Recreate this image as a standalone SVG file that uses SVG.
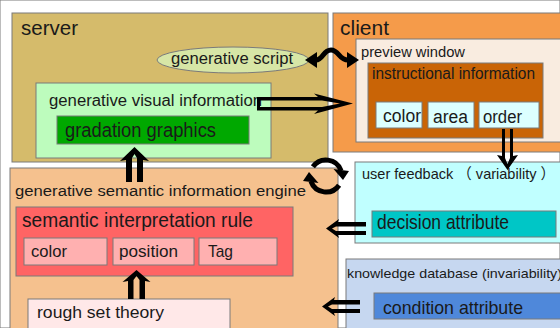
<svg xmlns="http://www.w3.org/2000/svg" width="560" height="328" viewBox="0 0 560 328">
<style>
rect, ellipse { stroke: #7a7a7a; stroke-width: 1; }
text { font-family: "Liberation Sans", "Noto Sans CJK JP", sans-serif; fill: #1a1a1a; }
.arr { fill: #000; fill-rule: evenodd; stroke: none; }
.ln { fill: none; stroke: #000; stroke-width: 5; }
.hd { fill: #000; stroke: none; }
</style>
<rect x="0" y="0" width="560" height="328" fill="#ffffff" stroke="none"/>
<g id="server">
  <rect x="12" y="13" width="316" height="149" fill="#d5bb6b"/>
  <text x="21" y="35" font-size="21" textLength="57" lengthAdjust="spacingAndGlyphs">server</text>
</g>
<g id="client">
  <rect x="333" y="13" width="232" height="139" fill="#f59b4a"/>
  <text x="340" y="35" font-size="20" textLength="49" lengthAdjust="spacingAndGlyphs">client</text>
</g>
<g id="engine">
  <rect x="10" y="168" width="328" height="170" fill="#f5c18e"/>
  <text x="15" y="196" font-size="15.5" textLength="291" lengthAdjust="spacingAndGlyphs">generative semantic information engine</text>
</g>
<g id="user-feedback">
  <rect x="355" y="162" width="210" height="81" fill="#c0ffff"/>
  <text x="362" y="179" font-size="15" textLength="193" lengthAdjust="spacingAndGlyphs">user feedback （ variability ）</text>
</g>
<g id="knowledge-database">
  <rect x="346" y="259" width="220" height="80" fill="#c6d7f0"/>
  <text x="347" y="278" font-size="13.5" textLength="215" lengthAdjust="spacingAndGlyphs">knowledge database (invariability)</text>
</g>
<g id="generative-script">
  <ellipse cx="233" cy="60" rx="76" ry="13" fill="#d7e6a6"/>
  <text x="171" y="64" font-size="16" textLength="122" lengthAdjust="spacingAndGlyphs">generative script</text>
</g>
<g id="generative-visual-information">
  <rect x="36" y="83" width="235" height="75" fill="#bdfcbd"/>
  <text x="49" y="106" font-size="16" textLength="213" lengthAdjust="spacingAndGlyphs">generative visual information</text>
</g>
<g id="gradation-graphics">
  <rect x="57" y="116" width="192" height="28" fill="#00a800"/>
  <text x="65" y="137" font-size="20" textLength="151" lengthAdjust="spacingAndGlyphs">gradation graphics</text>
</g>
<g id="preview-window">
  <rect x="356" y="39" width="210" height="103" fill="#f9ece0"/>
  <text x="361" y="57" font-size="14.5" textLength="104" lengthAdjust="spacingAndGlyphs">preview window</text>
</g>
<g id="instructional-information">
  <rect x="368" y="63" width="175" height="75" fill="#c96406"/>
  <text x="372" y="79" font-size="16" textLength="163" lengthAdjust="spacingAndGlyphs">instructional information</text>
</g>
<g id="client-color">
  <rect x="376" y="102" width="46" height="26" fill="#dcffff"/>
  <text x="383" y="122" font-size="18.5" textLength="38" lengthAdjust="spacingAndGlyphs">color</text>
</g>
<g id="client-area">
  <rect x="428" y="102" width="46" height="26" fill="#dcffff"/>
  <text x="433" y="123" font-size="18" textLength="35" lengthAdjust="spacingAndGlyphs">area</text>
</g>
<g id="client-order">
  <rect x="479" y="102" width="60" height="26" fill="#dcffff"/>
  <text x="483" y="123" font-size="18" textLength="39" lengthAdjust="spacingAndGlyphs">order</text>
</g>
<g id="semantic-interpretation-rule">
  <rect x="16" y="207" width="277" height="69" fill="#ff6464"/>
  <text x="22" y="227" font-size="20" textLength="231" lengthAdjust="spacingAndGlyphs">semantic interpretation rule</text>
</g>
<g id="rule-color">
  <rect x="24" y="238" width="83" height="27" fill="#ffb0b0"/>
  <text x="31" y="257" font-size="17" textLength="36" lengthAdjust="spacingAndGlyphs">color</text>
</g>
<g id="rule-position">
  <rect x="113" y="238" width="81" height="27" fill="#ffb0b0"/>
  <text x="119" y="257" font-size="17" textLength="59" lengthAdjust="spacingAndGlyphs">position</text>
</g>
<g id="rule-tag">
  <rect x="199" y="238" width="78" height="27" fill="#ffb0b0"/>
  <text x="208" y="257" font-size="17" textLength="25" lengthAdjust="spacingAndGlyphs">Tag</text>
</g>
<g id="rough-set-theory">
  <rect x="28" y="299" width="202" height="35" fill="#ffe8e8"/>
  <text x="37" y="318" font-size="16" textLength="127" lengthAdjust="spacingAndGlyphs">rough set theory</text>
</g>
<g id="decision-attribute">
  <rect x="372" y="211" width="184" height="26" fill="#00c6c6"/>
  <text x="377" y="229" font-size="20.5" textLength="132" lengthAdjust="spacingAndGlyphs">decision attribute</text>
</g>
<g id="condition-attribute">
  <rect x="374" y="293" width="192" height="26" fill="#4f88da"/>
  <text x="383" y="314" font-size="19" textLength="140" lengthAdjust="spacingAndGlyphs">condition attribute</text>
</g>
<g id="connectors">
  <path class="arr" d="M353,103.5 L314,93.5 L318,97 L257,97 L257,110.5 L318,110.5 L314,114 Z M340,103.5 L322,100.5 L260,100.5 L260,107 L322,107 Z"/>
  <path class="arr" d="M134.5,147 L149,161 L143,160 L143,182 L126,182 L126,160 L120,161 Z M134.5,154 L137,158 L137,182 L132,182 L132,158 Z"/>
  <path class="arr" d="M136.5,270 L150.5,282 L145,281 L145,299 L128,299 L128,281 L122.5,282 Z M136.5,276 L139.5,280 L139.5,299 L133.5,299 L133.5,280 Z"/>
  <path class="arr" d="M507.5,170 L497,155 L502,156 L502,129 L513,129 L513,156 L518,155 Z M507.5,164 L510,158 L510,129 L505,129 L505,158 Z"/>
  <path class="arr" d="M326,228.5 L339,219 L338,222 L366,222 L366,235 L338,235 L339,238 Z M332,228.5 L336,226.5 L366,226.5 L366,231 L336,231 Z"/>
  <path class="arr" d="M322,306.5 L335,297 L334,300 L360,300 L360,313 L334,313 L335,316 Z M328,306.5 L332,304.5 L360,304.5 L360,309 L332,309 Z"/>
  <path class="ln" d="M316,60 C323,60 323,50 331,50 C339,50 339,60 348,60"/>
  <polygon class="hd" points="305,60 317,52 317,68"/>
  <polygon class="hd" points="359,60 347,52 347,68"/>
  <path class="ln" d="M312.9,166.8 A16,16 0 0 1 341.04,170.53"/>
  <polygon class="hd" points="343,180 333.5,169 349,171"/>
  <path class="ln" d="M339.1,185.2 A16,16 0 0 1 310.96,181.47"/>
  <polygon class="hd" points="309,172 318.5,183 303,181"/>
</g>
</svg>
